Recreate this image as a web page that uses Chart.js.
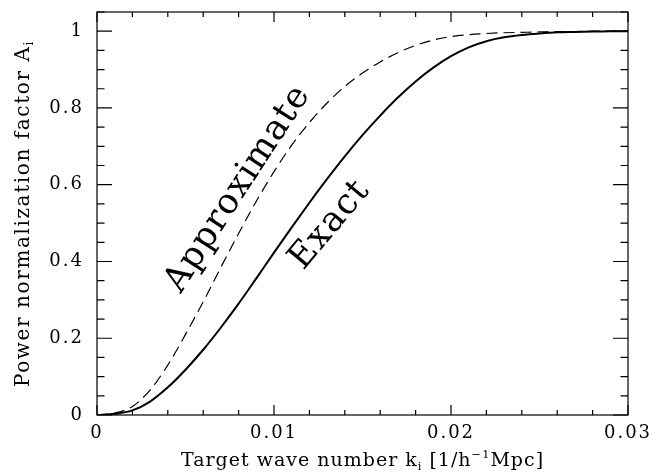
<!DOCTYPE html>
<html>
<head>
<meta charset="utf-8">
<script src="https://cdn.jsdelivr.net/npm/chart.js@4.4.1/dist/chart.umd.min.js"></script>
<style>
  html, body { margin: 0; padding: 0; background: #fff; }
  #wrap { width: 668px; height: 472px; }
</style>
</head>
<body>
<div id="wrap"><canvas id="chart"></canvas></div>
<script>
// wave number k_i, step 0.001
const kValues = [0, 0.001, 0.002, 0.003, 0.004, 0.005, 0.006, 0.007, 0.008, 0.009,
                 0.010, 0.011, 0.012, 0.013, 0.014, 0.015, 0.016, 0.017, 0.018, 0.019,
                 0.020, 0.021, 0.022, 0.023, 0.024, 0.025, 0.026, 0.027, 0.028, 0.029, 0.030];
const exactA = [0, 0.003, 0.012, 0.035, 0.072, 0.118, 0.170, 0.228, 0.290, 0.356,
                0.423, 0.489, 0.553, 0.615, 0.674, 0.729, 0.780, 0.827, 0.869, 0.905,
                0.935, 0.958, 0.974, 0.984, 0.990, 0.994, 0.997, 0.998, 0.999, 1.0, 1.0];
const approxA = [0, 0.005, 0.022, 0.065, 0.130, 0.210, 0.295, 0.385, 0.473, 0.557,
                 0.634, 0.703, 0.762, 0.813, 0.856, 0.891, 0.920, 0.944, 0.963, 0.977,
                 0.986, 0.991, 0.994, 0.996, 0.997, 0.998, 0.999, 0.999, 1.0, 1.0, 1.0];
const xTicks = [0, 0.01, 0.02, 0.03];
const yTicks = [0, 0.2, 0.4, 0.6, 0.8, 1];

const FONT = '"DejaVu Serif", serif';

// draw text made of pieces, some sub/superscript
function richText(ctx, parts, size, spacing) {
    ctx.letterSpacing = spacing + 'px';
    let w = 0;
    parts.forEach(p => {
        ctx.font = (p.sub || p.sup ? size * 0.6 : size) + 'px ' + FONT;
        p.w = ctx.measureText(p.t).width;
        w += p.w;
    });
    let x = -w / 2;
    parts.forEach(p => {
        ctx.font = (p.sub || p.sup ? size * 0.6 : size) + 'px ' + FONT;
        let dy = p.sub ? size * 0.2 : (p.sup ? -size * 0.4 : 0);
        ctx.fillText(p.t, x, dy);
        x += p.w;
    });
}

const framePlugin = {
    id: 'frame',
    beforeDraw(chart) {
        // wide spacing like the old plotting font, used by the tick labels too
        chart.ctx.letterSpacing = '2px';
    },
    afterDraw(chart) {
        const ctx = chart.ctx;
        const a = chart.chartArea;
        const xs = chart.scales.x, ys = chart.scales.y;
        ctx.save();
        ctx.strokeStyle = '#000';
        ctx.lineWidth = 1.2;
        ctx.strokeRect(a.left, a.top, a.right - a.left, a.bottom - a.top);

        ctx.beginPath();
        for (let i = 0; i <= 15; i++) {
            const px = xs.getPixelForValue(i * 0.002);
            const len = i % 5 === 0 ? 10 : 5;
            ctx.moveTo(px, a.bottom); ctx.lineTo(px, a.bottom - len);
            ctx.moveTo(px, a.top); ctx.lineTo(px, a.top + len);
        }
        for (let i = 0; i <= 21; i++) {
            const py = ys.getPixelForValue(i * 0.05);
            const len = i % 4 === 0 ? 15 : 7.5;
            ctx.moveTo(a.left, py); ctx.lineTo(a.left + len, py);
            ctx.moveTo(a.right, py); ctx.lineTo(a.right - len, py);
        }
        ctx.stroke();

        ctx.fillStyle = '#000';
        ctx.textBaseline = 'alphabetic';
        ctx.textAlign = 'left';

        // x title
        ctx.save();
        ctx.translate((a.left + a.right) / 2, 466);
        richText(ctx, [{t: 'Target wave number k'}, {t: 'i', sub: true}, {t: ' [1/h'},
                       {t: '\u22121', sup: true}, {t: 'Mpc]'}], 19, 1);
        ctx.restore();

        // y title
        ctx.save();
        ctx.translate(29, (a.top + a.bottom) / 2);
        ctx.rotate(-Math.PI / 2);
        richText(ctx, [{t: 'Power normalization factor A'}, {t: 'i', sub: true}], 20, 1.6);
        ctx.restore();

        // curve labels
        ctx.letterSpacing = '1px';
        ctx.font = '35px ' + FONT;
        ctx.textAlign = 'center';
        ctx.textBaseline = 'middle';
        ctx.save();
        ctx.translate(238, 189);
        ctx.rotate(-57 * Math.PI / 180);
        ctx.fillText('Approximate', 0, 0);
        ctx.restore();
        ctx.save();
        ctx.translate(330, 225);
        ctx.rotate(-50 * Math.PI / 180);
        ctx.fillText('Exact', 0, 0);
        ctx.restore();

        ctx.restore();
    }
};

new Chart(document.getElementById('chart'), {
    type: 'line',
    data: {
        datasets: [{
            label: 'Exact',
            data: kValues.map((k, i) => ({x: k, y: exactA[i]})),
            borderColor: '#000',
            borderWidth: 2,
            pointRadius: 0,
            cubicInterpolationMode: 'monotone'
        }, {
            label: 'Approximate',
            data: kValues.map((k, i) => ({x: k, y: approxA[i]})),
            borderColor: '#000',
            borderWidth: 1.2,
            borderDash: [11, 6],
            pointRadius: 0,
            cubicInterpolationMode: 'monotone'
        }]
    },
    options: {
        responsive: true,
        maintainAspectRatio: false,
        animation: false,
        layout: { padding: { top: 12, right: 40, left: 0, bottom: 0 } },
        plugins: { legend: { display: false }, tooltip: { enabled: false } },
        scales: {
            x: {
                type: 'linear',
                min: 0, max: 0.03,
                grid: { display: false, drawTicks: false },
                border: { display: false },
                afterBuildTicks: s => { s.ticks = xTicks.map(v => ({value: v})); },
                afterFit: s => { s.height = 57; s.paddingLeft = 0; s.paddingRight = 0; },
                ticks: {
                    color: '#000', padding: 8,
                    font: { family: FONT, size: 18 },
                    maxRotation: 0,
                    callback: v => v === 0 ? '0' : v.toFixed(2)
                }
            },
            y: {
                type: 'linear',
                min: 0, max: 1.05,
                grid: { display: false, drawTicks: false },
                border: { display: false },
                afterBuildTicks: s => { s.ticks = yTicks.map(v => ({value: v})); },
                afterFit: s => { s.width = 97; s.paddingTop = 0; s.paddingBottom = 0; },
                ticks: {
                    color: '#000', padding: 13,
                    font: { family: FONT, size: 18 },
                    callback: v => (v === 0 || v === 1) ? String(v) : v.toFixed(1)
                }
            }
        }
    },
    plugins: [framePlugin]
});
</script>
</body>
</html>
